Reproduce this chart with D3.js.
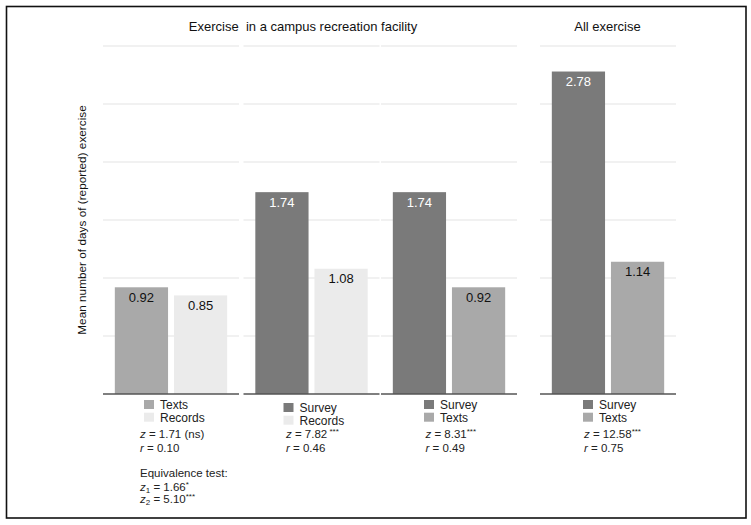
<!DOCTYPE html>
<html><head><meta charset="utf-8">
<script src="https://cdn.jsdelivr.net/npm/d3@7"></script>
<style>
html,body{margin:0;padding:0;background:#fff;}
svg{display:block;font-family:"Liberation Sans",Arial,Helvetica,sans-serif;}
</style>
</head><body>
<svg id="c" width="751" height="525"></svg>
<script>
// ---- data ----
const headerTitles = ["Exercise  in a campus recreation facility", "All exercise"];
const firstSeriesNames = ["Texts", "Survey", "Survey", "Survey"];
const firstSeriesValues = [0.92, 1.74, 1.74, 2.78];
const secondSeriesNames = ["Records", "Records", "Texts", "Texts"];
const secondSeriesValues = [0.85, 1.08, 0.92, 1.14];
const zValues = ["1.71 (ns)", "7.82", "8.31", "12.58"];
const zStars = ["", " ***", "***", "***"];
const rValues = ["0.10", "0.46", "0.49", "0.75"];
const equivalenceLines = [["1", "1.66", "*"], ["2", "5.10", "***"]];
const yTicks = [0, 0.5, 1, 1.5, 2, 2.5, 3];
const yLabel = "Mean number of days of (reported) exercise";

// ---- layout ----
const colors = {Survey: "#7a7a7a", Texts: "#a9a9a9", Records: "#ebebeb"};
const labelColors = {Survey: "#ffffff", Texts: "#111111", Records: "#111111"};
const panelX = [103, 243.5, 381, 540];
const panelW = 136;
const legendDy = [0, 3, 0, 0];
const legendDx = [41, 40, 43, 43];
const statDx = [37, 42.5, 44.5, 44];

const svg = d3.select("#c");
const y = d3.scaleLinear().domain([0, 3]).range([394, 46]);
const xb = d3.scaleBand().domain([0, 1]).range([0, panelW]).paddingInner(0.1).paddingOuter(0.2);

svg.append("rect").attr("x", 6.5).attr("y", 6.5).attr("width", 739.5).attr("height", 511.5)
  .attr("fill", "none").attr("stroke", "#111").attr("stroke-width", 1.6);

// headers
svg.append("text").attr("x", 303).attr("y", 31).attr("text-anchor", "middle")
  .attr("font-size", 13).attr("fill", "#111").attr("xml:space","preserve").text(headerTitles[0]);
svg.append("text").attr("x", 607.5).attr("y", 31).attr("text-anchor", "middle")
  .attr("font-size", 13).attr("fill", "#111").text(headerTitles[1]);

// y label
svg.append("text").attr("transform", "translate(86,220) rotate(-90)").attr("text-anchor", "middle")
  .attr("font-size", 11.8).attr("fill", "#111").text(yLabel);

const panels = d3.range(4).map(i => ({
  i,
  bars: [
    {name: firstSeriesNames[i], value: firstSeriesValues[i]},
    {name: secondSeriesNames[i], value: secondSeriesValues[i]}
  ]
}));

panels.forEach(p => {
  const g = svg.append("g").attr("transform", `translate(${panelX[p.i]},0)`);
  // gridlines
  g.selectAll("line.grid").data(yTicks.filter(t => t > 0)).join("line")
    .attr("x1", 0).attr("x2", panelW).attr("y1", d => y(d)).attr("y2", d => y(d))
    .attr("stroke", "#ececec").attr("stroke-width", 1.5);
  // bars
  g.selectAll("rect.bar").data(p.bars).join("rect")
    .attr("x", (d, j) => xb(j)).attr("width", xb.bandwidth())
    .attr("y", d => y(d.value)).attr("height", d => y(0) - y(d.value))
    .attr("fill", d => colors[d.name]);
  g.selectAll("text.val").data(p.bars).join("text")
    .attr("x", (d, j) => xb(j) + xb.bandwidth() / 2).attr("y", d => y(d.value) + 14.5)
    .attr("text-anchor", "middle").attr("font-size", 13)
    .attr("fill", d => labelColors[d.name]).text(d => d.value.toFixed(2));
  // baseline
  g.append("line").attr("x1", 0).attr("x2", panelW).attr("y1", y(0)).attr("y2", y(0))
    .attr("stroke", "#555").attr("stroke-width", 1.6);
  // legend
  const lg = g.append("g").attr("transform", `translate(${legendDx[p.i]},${legendDy[p.i]})`);
  p.bars.forEach((b, j) => {
    lg.append("rect").attr("x", 0).attr("y", 400 + j * 12.7).attr("width", 10).attr("height", 9)
      .attr("fill", colors[b.name]);
    lg.append("text").attr("x", 16).attr("y", 409 + j * 12.7).attr("font-size", 12)
      .attr("fill", "#222").text(b.name);
  });
  // stats
  const sx = statDx[p.i];
  const zt = g.append("text").attr("x", sx).attr("y", 438.3).attr("font-size", 11.5).attr("fill", "#222");
  zt.append("tspan").attr("font-style", "italic").text("z");
  zt.append("tspan").text(" = " + zValues[p.i]);
  if (zStars[p.i]) zt.append("tspan").attr("font-size", 8).attr("dy", -4).attr("xml:space","preserve").text(zStars[p.i]);
  const rt = g.append("text").attr("x", sx).attr("y", 451.7).attr("font-size", 11.5).attr("fill", "#222");
  rt.append("tspan").attr("font-style", "italic").text("r");
  rt.append("tspan").text(" = " + rValues[p.i]);
  if (p.i === 0) {
    g.append("text").attr("x", sx).attr("y", 477.3).attr("font-size", 11.5).attr("fill", "#222")
      .text("Equivalence test:");
    equivalenceLines.forEach((e, k) => {
      const t = g.append("text").attr("x", sx).attr("y", 490.7 + k * 11.8).attr("font-size", 11.5).attr("fill", "#222");
      t.append("tspan").attr("font-style", "italic").text("z");
      t.append("tspan").attr("font-size", 8).attr("dy", 2).text(e[0]);
      t.append("tspan").attr("dy", -2).text(" = " + e[1]);
      t.append("tspan").attr("font-size", 8).attr("dy", -4).text(e[2]);
    });
  }
});
</script>
</body></html>
